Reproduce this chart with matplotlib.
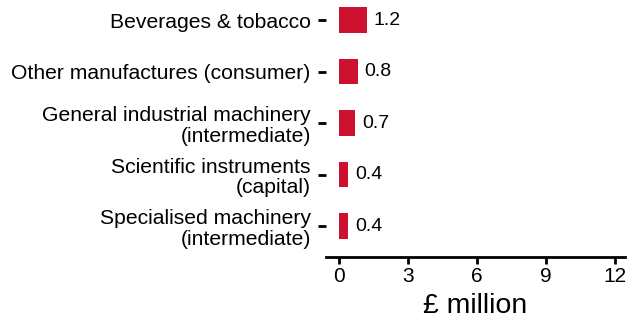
from matplotlib import pyplot as plt

categories = [
    "Beverages & tobacco",
    "Other manufactures (consumer)",
    "General industrial machinery\n(intermediate)",
    "Scientific instruments\n(capital)",
    "Specialised machinery\n(intermediate)",
]
values = [1.2, 0.8, 0.7, 0.4, 0.4]
xticks = [0, 3, 6, 9, 12]

plt.rcParams["font.family"] = ["Liberation Sans", "DejaVu Sans"]

fig = plt.figure(figsize = (6.3, 3.19), dpi = 100)
ax = fig.add_axes([326 / 630, 62 / 319, 299 / 630, 257 / 319])

pos = list(range(len(categories)))[::-1]
ax.barh(pos, values, height = 0.5, color = "#CE1131")
for p, v in zip(pos, values):
    ax.text(v + 0.3, p, f"{v:.1f}", va = "center", ha = "left", fontsize = 14)

ax.set_xlim(-0.57, 12.43)
ax.set_ylim(-0.6, 4.39)
ax.set_yticks(pos)
ax.set_yticklabels(categories, fontsize = 15.2, linespacing = 1.12)
ax.set_xticks(xticks)
ax.set_xticklabels([str(t) for t in xticks], fontsize = 15)
ax.set_xlabel("£ million", fontsize = 20.5, labelpad = 5)

for s in ["top", "right", "left"]:
    ax.spines[s].set_visible(False)
ax.spines["bottom"].set_linewidth(2)
ax.tick_params(axis = "y", length = 6, width = 2, pad = 5)
ax.tick_params(axis = "x", length = 5, width = 2, pad = 2)

plt.savefig("out.png", dpi = 100)
